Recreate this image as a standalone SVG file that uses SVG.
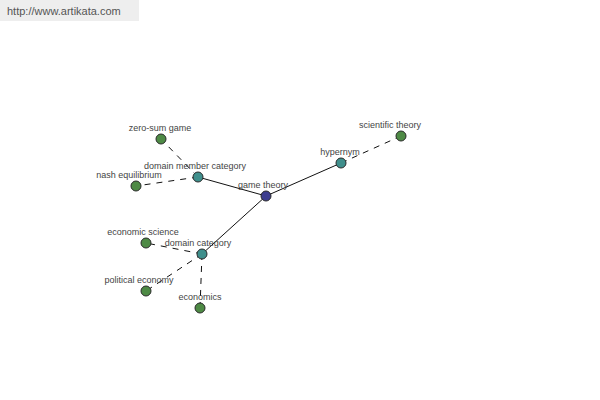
<svg xmlns="http://www.w3.org/2000/svg" width="600" height="400" viewBox="0 0 600 400">
<style>
text{font-family:"Liberation Sans",Arial,sans-serif;font-size:9px;fill:#444;text-anchor:middle}
.n circle{stroke:#2a2a2a;stroke-width:1}
.leaf circle{fill:#4e8a45}
.mid circle{fill:#3f8f8c}
.root circle{fill:#3d3d8f}
.c line{stroke:#111;stroke-width:1}
.c .d{stroke-dasharray:6,6}
</style>
<rect x="0" y="0" width="139" height="21" fill="#eeeeee"/>
<text x="7" y="15" style="font-size:11px;text-anchor:start;fill:#555">http://www.artikata.com</text>
<g class="c">
<line x1="266" y1="196" x2="198" y2="177"/>
<line x1="266" y1="196" x2="341" y2="163"/>
<line x1="266" y1="196" x2="202" y2="254"/>
<line class="d" x1="198" y1="177" x2="161" y2="139"/>
<line class="d" x1="198" y1="177" x2="136" y2="186"/>
<line class="d" x1="341" y1="163" x2="401" y2="136"/>
<line class="d" x1="202" y1="254" x2="146" y2="243"/>
<line class="d" x1="202" y1="254" x2="146" y2="291"/>
<line class="d" x1="202" y1="254" x2="200" y2="308"/>
</g>
<g id="zero-sum-game" class="n leaf"><circle cx="161" cy="139" r="5"/><text x="160" y="131">zero-sum game</text></g>
<g id="nash-equilibrium" class="n leaf"><circle cx="136" cy="186" r="5"/><text x="129" y="178">nash equilibrium</text></g>
<g id="domain-member-category" class="n mid"><circle cx="198" cy="177" r="5"/><text x="195" y="169">domain member category</text></g>
<g id="game-theory" class="n root"><circle cx="266" cy="196" r="5"/><text x="263" y="188">game theory</text></g>
<g id="hypernym" class="n mid"><circle cx="341" cy="163" r="5"/><text x="340" y="155">hypernym</text></g>
<g id="scientific-theory" class="n leaf"><circle cx="401" cy="136" r="5"/><text x="390" y="128">scientific theory</text></g>
<g id="economic-science" class="n leaf"><circle cx="146" cy="243" r="5"/><text x="143" y="235">economic science</text></g>
<g id="domain-category" class="n mid"><circle cx="202" cy="254" r="5"/><text x="198" y="246">domain category</text></g>
<g id="political-economy" class="n leaf"><circle cx="146" cy="291" r="5"/><text x="139" y="283">political economy</text></g>
<g id="economics" class="n leaf"><circle cx="200" cy="308" r="5"/><text x="200" y="300">economics</text></g>
</svg>
